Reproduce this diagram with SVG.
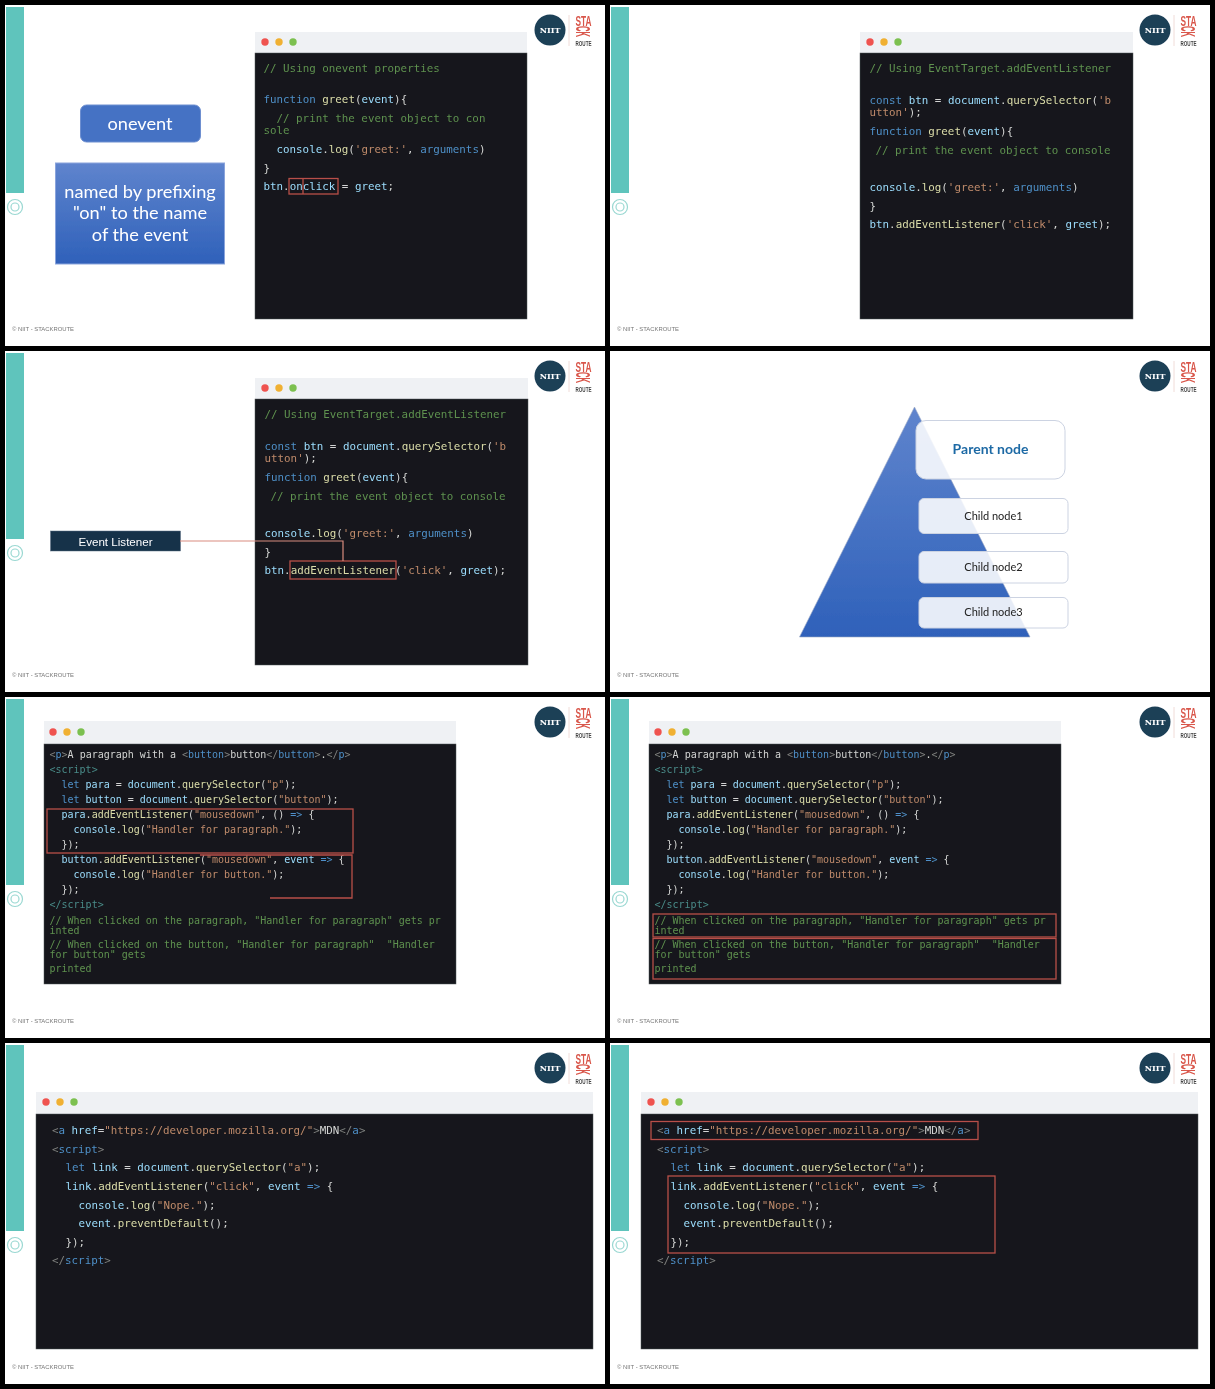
<svg xmlns="http://www.w3.org/2000/svg" width="1215" height="1389" viewBox="0 0 1215 1389">
<style>
.slide{fill:#fff}
.bar{fill:#5ec4bc}
.ring{fill:none;stroke:#9ad8d2;stroke-width:1.2}
.foot{font:5.9px "Liberation Sans",Arial,sans-serif;fill:#777}
.nb{font:bold 8px "DejaVu Serif",serif;fill:#fff;text-anchor:middle}
.sta{font:bold 15.500px "Liberation Sans",Arial,sans-serif;fill:#d9574b;text-anchor:middle}
.ck{font-size:21px}
.rt{font:bold 7.500px "Liberation Sans",Arial,sans-serif;fill:#444;text-anchor:middle}
.title{fill:#eff1f4}
.code{fill:#15171a;stroke:#55585c;stroke-width:.5}
.d1{fill:#ef5350}.d2{fill:#f0b030}.d3{fill:#7cc050}
text.m{font:10.85px "DejaVu Sans Mono","Liberation Mono",monospace;white-space:pre;fill:#d4d4d4}
text.s10{font-size:10px}
text.m.c,.c{fill:#5f9150}.k{fill:#4f8fc9}.f{fill:#dcdcaa}.v{fill:#9cdcfe}.s{fill:#c08a6c}.g{fill:#808080}.n{fill:#4f8fc9}.t{fill:#4a8a8a}
.box{fill:none;stroke:#b84f48;stroke-width:1.3}
.lato{font-family:Lato,"Open Sans",sans-serif;text-anchor:middle}
.wt{fill:#fff;font-size:18.200px}
.card{fill:#fff;fill-opacity:.88;stroke:#ccd3e2;stroke-width:1}
.cn{fill:#222;font-size:11px}
.conn{fill:none;stroke:#d98b80;stroke-width:1.2}
</style>
<defs>
<linearGradient id="bl" x1="0" y1="0" x2="0" y2="1"><stop offset="0" stop-color="#5f84cd"/><stop offset="1" stop-color="#2f61ba"/></linearGradient>
<filter id="soft" filterUnits="userSpaceOnUse" x="0" y="0" width="1215" height="1389"><feGaussianBlur stdDeviation="0.35"/></filter>
</defs>
<rect width="1215" height="1389" fill="#000"/>
<g id="deck" filter="url(#soft)">
<g id="slide1-chrome"><rect class="slide" x="5" y="5" width="600" height="341"/><rect class="bar" x="6" y="7" width="18" height="186"/><circle class="ring" cx="15" cy="207" r="7.5"/><circle class="ring" cx="15" cy="207" r="4"/><text class="foot" x="12" y="331">© NIIT - STACKROUTE</text><circle cx="550" cy="30" r="15.5" fill="#1c3f57"/><text class="nb" x="550" y="33">NIIT</text><line x1="569" y1="15" x2="569" y2="46" stroke="#f0dcd8"/><text class="sta" x="583.5" y="25.5" textLength="16" lengthAdjust="spacingAndGlyphs">STA</text><text class="sta ck" transform="translate(576,31.500) rotate(90)" textLength="11" lengthAdjust="spacingAndGlyphs">CK</text><text class="rt" x="583.5" y="45.5" textLength="16" lengthAdjust="spacingAndGlyphs">ROUTE</text></g>
<g id="slide2-chrome"><rect class="slide" x="610" y="5" width="600" height="341"/><rect class="bar" x="611" y="7" width="18" height="186"/><circle class="ring" cx="620" cy="207" r="7.5"/><circle class="ring" cx="620" cy="207" r="4"/><text class="foot" x="617" y="331">© NIIT - STACKROUTE</text><circle cx="1155" cy="30" r="15.5" fill="#1c3f57"/><text class="nb" x="1155" y="33">NIIT</text><line x1="1174" y1="15" x2="1174" y2="46" stroke="#f0dcd8"/><text class="sta" x="1188.5" y="25.5" textLength="16" lengthAdjust="spacingAndGlyphs">STA</text><text class="sta ck" transform="translate(1181,31.500) rotate(90)" textLength="11" lengthAdjust="spacingAndGlyphs">CK</text><text class="rt" x="1188.5" y="45.5" textLength="16" lengthAdjust="spacingAndGlyphs">ROUTE</text></g>
<g id="slide3-chrome"><rect class="slide" x="5" y="351" width="600" height="341"/><rect class="bar" x="6" y="353" width="18" height="186"/><circle class="ring" cx="15" cy="553" r="7.5"/><circle class="ring" cx="15" cy="553" r="4"/><text class="foot" x="12" y="677">© NIIT - STACKROUTE</text><circle cx="550" cy="376" r="15.5" fill="#1c3f57"/><text class="nb" x="550" y="379">NIIT</text><line x1="569" y1="361" x2="569" y2="392" stroke="#f0dcd8"/><text class="sta" x="583.5" y="371.5" textLength="16" lengthAdjust="spacingAndGlyphs">STA</text><text class="sta ck" transform="translate(576,377.500) rotate(90)" textLength="11" lengthAdjust="spacingAndGlyphs">CK</text><text class="rt" x="583.5" y="391.5" textLength="16" lengthAdjust="spacingAndGlyphs">ROUTE</text></g>
<g id="slide4-chrome"><rect class="slide" x="610" y="351" width="600" height="341"/><text class="foot" x="617" y="677">© NIIT - STACKROUTE</text><circle cx="1155" cy="376" r="15.5" fill="#1c3f57"/><text class="nb" x="1155" y="379">NIIT</text><line x1="1174" y1="361" x2="1174" y2="392" stroke="#f0dcd8"/><text class="sta" x="1188.5" y="371.5" textLength="16" lengthAdjust="spacingAndGlyphs">STA</text><text class="sta ck" transform="translate(1181,377.500) rotate(90)" textLength="11" lengthAdjust="spacingAndGlyphs">CK</text><text class="rt" x="1188.5" y="391.5" textLength="16" lengthAdjust="spacingAndGlyphs">ROUTE</text></g>
<g id="slide5-chrome"><rect class="slide" x="5" y="697" width="600" height="341"/><rect class="bar" x="6" y="699" width="18" height="186"/><circle class="ring" cx="15" cy="899" r="7.5"/><circle class="ring" cx="15" cy="899" r="4"/><text class="foot" x="12" y="1023">© NIIT - STACKROUTE</text><circle cx="550" cy="722" r="15.5" fill="#1c3f57"/><text class="nb" x="550" y="725">NIIT</text><line x1="569" y1="707" x2="569" y2="738" stroke="#f0dcd8"/><text class="sta" x="583.5" y="717.5" textLength="16" lengthAdjust="spacingAndGlyphs">STA</text><text class="sta ck" transform="translate(576,723.500) rotate(90)" textLength="11" lengthAdjust="spacingAndGlyphs">CK</text><text class="rt" x="583.5" y="737.5" textLength="16" lengthAdjust="spacingAndGlyphs">ROUTE</text></g>
<g id="slide6-chrome"><rect class="slide" x="610" y="697" width="600" height="341"/><rect class="bar" x="611" y="699" width="18" height="186"/><circle class="ring" cx="620" cy="899" r="7.5"/><circle class="ring" cx="620" cy="899" r="4"/><text class="foot" x="617" y="1023">© NIIT - STACKROUTE</text><circle cx="1155" cy="722" r="15.5" fill="#1c3f57"/><text class="nb" x="1155" y="725">NIIT</text><line x1="1174" y1="707" x2="1174" y2="738" stroke="#f0dcd8"/><text class="sta" x="1188.5" y="717.5" textLength="16" lengthAdjust="spacingAndGlyphs">STA</text><text class="sta ck" transform="translate(1181,723.500) rotate(90)" textLength="11" lengthAdjust="spacingAndGlyphs">CK</text><text class="rt" x="1188.5" y="737.5" textLength="16" lengthAdjust="spacingAndGlyphs">ROUTE</text></g>
<g id="slide7-chrome"><rect class="slide" x="5" y="1043" width="600" height="341"/><rect class="bar" x="6" y="1045" width="18" height="186"/><circle class="ring" cx="15" cy="1245" r="7.5"/><circle class="ring" cx="15" cy="1245" r="4"/><text class="foot" x="12" y="1369">© NIIT - STACKROUTE</text><circle cx="550" cy="1068" r="15.5" fill="#1c3f57"/><text class="nb" x="550" y="1071">NIIT</text><line x1="569" y1="1053" x2="569" y2="1084" stroke="#f0dcd8"/><text class="sta" x="583.5" y="1063.5" textLength="16" lengthAdjust="spacingAndGlyphs">STA</text><text class="sta ck" transform="translate(576,1069.500) rotate(90)" textLength="11" lengthAdjust="spacingAndGlyphs">CK</text><text class="rt" x="583.5" y="1083.5" textLength="16" lengthAdjust="spacingAndGlyphs">ROUTE</text></g>
<g id="slide8-chrome"><rect class="slide" x="610" y="1043" width="600" height="341"/><rect class="bar" x="611" y="1045" width="18" height="186"/><circle class="ring" cx="620" cy="1245" r="7.5"/><circle class="ring" cx="620" cy="1245" r="4"/><text class="foot" x="617" y="1369">© NIIT - STACKROUTE</text><circle cx="1155" cy="1068" r="15.5" fill="#1c3f57"/><text class="nb" x="1155" y="1071">NIIT</text><line x1="1174" y1="1053" x2="1174" y2="1084" stroke="#f0dcd8"/><text class="sta" x="1188.5" y="1063.5" textLength="16" lengthAdjust="spacingAndGlyphs">STA</text><text class="sta ck" transform="translate(1181,1069.500) rotate(90)" textLength="11" lengthAdjust="spacingAndGlyphs">CK</text><text class="rt" x="1188.5" y="1083.5" textLength="16" lengthAdjust="spacingAndGlyphs">ROUTE</text></g>

<g id="slide1-labels">
<g id="onevent"><rect x="80.500" y="105" width="120" height="37" rx="6" fill="#4472c4" stroke="#6e8fd0"/><text class="lato wt" x="140" y="129.500">onevent</text></g>
<g id="named"><rect x="55.500" y="163" width="169" height="101" fill="url(#bl)" stroke="#8aa4dc"/><text class="lato wt" x="140" y="198">named by prefixing</text><text class="lato wt" x="140" y="219">"on" to the name</text><text class="lato wt" x="140" y="240.500">of the event</text></g>
</g>
<g id="slide1-window"><rect class="title" x="255" y="32" width="272" height="21"/><rect class="code" x="255" y="53" width="272" height="266"/><circle class="d1" cx="265" cy="42" r="3.7"/><circle class="d2" cx="279" cy="42" r="3.7"/><circle class="d3" cx="293" cy="42" r="3.7"/>
<text class="m c" x="263.500" y="71.500">// Using onevent properties</text>
<text class="m" x="263.500" y="102.500"><tspan class="k">function</tspan> <tspan class="f">greet</tspan>(<tspan class="v">event</tspan>){</text>
<text class="m c" x="276.500" y="121.500">// print the event object to con</text>
<text class="m c" x="263.500" y="133.500">sole</text>
<text class="m" x="276.500" y="152.500"><tspan class="v">console</tspan>.<tspan class="f">log</tspan>(<tspan class="s">'greet:'</tspan>, <tspan class="k">arguments</tspan>)</text>
<text class="m" x="263.500" y="171.500">}</text>
<text class="m" x="263.500" y="190"><tspan class="v">btn</tspan>.<tspan class="v">onclick</tspan> = <tspan class="v">greet</tspan>;</text>
<rect class="box" x="289" y="178.500" width="49" height="15.500"/><line class="box" x1="303" y1="178.500" x2="303" y2="194"/></g>

<g id="slide2-window"><rect class="title" x="860" y="32" width="273" height="21"/><rect class="code" x="860" y="53" width="273" height="266"/><circle class="d1" cx="870" cy="42" r="3.7"/><circle class="d2" cx="884" cy="42" r="3.7"/><circle class="d3" cx="898" cy="42" r="3.7"/>
<text class="m c" x="869.500" y="71.500">// Using EventTarget.addEventListener</text>
<text class="m" x="869.500" y="103.500"><tspan class="k">const</tspan> <tspan class="v">btn</tspan> = <tspan class="v">document</tspan>.<tspan class="f">querySelector</tspan>(<tspan class="s">'b</tspan></text>
<text class="m" x="869.500" y="115.500"><tspan class="s">utton'</tspan>);</text>
<text class="m" x="869.500" y="134.500"><tspan class="k">function</tspan> <tspan class="f">greet</tspan>(<tspan class="v">event</tspan>){</text>
<text class="m c" x="875.500" y="153.500">// print the event object to console</text>
<text class="m" x="869.500" y="190.500"><tspan class="v">console</tspan>.<tspan class="f">log</tspan>(<tspan class="s">'greet:'</tspan>, <tspan class="k">arguments</tspan>)</text>
<text class="m" x="869.500" y="209.500">}</text>
<text class="m" x="869.500" y="228"><tspan class="v">btn</tspan>.<tspan class="f">addEventListener</tspan>(<tspan class="s">'click'</tspan>, <tspan class="v">greet</tspan>);</text></g>

<g id="slide3-window"><rect class="title" x="255" y="378" width="273" height="21"/><rect class="code" x="255" y="399" width="273" height="266"/><circle class="d1" cx="265" cy="388" r="3.7"/><circle class="d2" cx="279" cy="388" r="3.7"/><circle class="d3" cx="293" cy="388" r="3.7"/>
<text class="m c" x="264.500" y="418">// Using EventTarget.addEventListener</text>
<text class="m" x="264.500" y="449.500"><tspan class="k">const</tspan> <tspan class="v">btn</tspan> = <tspan class="v">document</tspan>.<tspan class="f">querySelector</tspan>(<tspan class="s">'b</tspan></text>
<text class="m" x="264.500" y="461.500"><tspan class="s">utton'</tspan>);</text>
<text class="m" x="264.500" y="480.500"><tspan class="k">function</tspan> <tspan class="f">greet</tspan>(<tspan class="v">event</tspan>){</text>
<text class="m c" x="270.500" y="499.500">// print the event object to console</text>
<text class="m" x="264.500" y="536.500"><tspan class="v">console</tspan>.<tspan class="f">log</tspan>(<tspan class="s">'greet:'</tspan>, <tspan class="k">arguments</tspan>)</text>
<text class="m" x="264.500" y="555.500">}</text>
<text class="m" x="264.500" y="574"><tspan class="v">btn</tspan>.<tspan class="f">addEventListener</tspan>(<tspan class="s">'click'</tspan>, <tspan class="v">greet</tspan>);</text>
<rect class="box" x="290" y="561" width="106" height="18"/></g>
<g id="event-listener"><rect x="50.500" y="531" width="130" height="20" fill="#16304a" stroke="#5a6f82" stroke-width=".5"/><text x="115.500" y="545.500" text-anchor="middle" fill="#fff" style="font:11.600px 'Liberation Sans',Arial,sans-serif">Event Listener</text></g>
<g id="connectors"><polyline class="conn" points="180,541 343,541 343,561"/></g>

<g id="slide4-pyramid"><polygon points="914.500,407 1030,637 799.500,637" fill="url(#bl)" stroke="#9aa8c4" stroke-width=".6"/>
<g id="parent-node"><rect class="card" x="916" y="420.500" width="149" height="58.500" rx="10"/><text class="lato" x="990.500" y="454" fill="#1f6aa5" font-weight="700" font-size="14px">Parent node</text></g>
<g id="child-node1"><rect class="card" x="919" y="498.500" width="149" height="35" rx="5"/><text class="lato cn" x="993.500" y="519.500">Child node1</text></g>
<g id="child-node2"><rect class="card" x="919" y="551.500" width="149" height="31.500" rx="5"/><text class="lato cn" x="993.500" y="571">Child node2</text></g>
<g id="child-node3"><rect class="card" x="919" y="597.500" width="149" height="30.500" rx="5"/><text class="lato cn" x="993.500" y="616">Child node3</text></g>
</g>

<g id="slide5-window"><rect class="title" x="44" y="721" width="412" height="23"/><rect class="code" x="44" y="744" width="412" height="240"/><circle class="d1" cx="53" cy="732" r="3.7"/><circle class="d2" cx="67" cy="732" r="3.7"/><circle class="d3" cx="81" cy="732" r="3.7"/>
<text class="m s10" x="49.500" y="758"><tspan class="g">&lt;</tspan><tspan class="n">p</tspan><tspan class="g">&gt;</tspan>A paragraph with a <tspan class="g">&lt;</tspan><tspan class="n">button</tspan><tspan class="g">&gt;</tspan>button<tspan class="g">&lt;/</tspan><tspan class="n">button</tspan><tspan class="g">&gt;</tspan>.<tspan class="g">&lt;/</tspan><tspan class="n">p</tspan><tspan class="g">&gt;</tspan></text>
<text class="m s10" x="49.500" y="773"><tspan class="t">&lt;script&gt;</tspan></text>
<text class="m s10" x="61.500" y="788"><tspan class="k">let</tspan> <tspan class="v">para</tspan> = <tspan class="v">document</tspan>.<tspan class="f">querySelector</tspan>(<tspan class="s">"p"</tspan>);</text>
<text class="m s10" x="61.500" y="803"><tspan class="k">let</tspan> <tspan class="v">button</tspan> = <tspan class="v">document</tspan>.<tspan class="f">querySelector</tspan>(<tspan class="s">"button"</tspan>);</text>
<text class="m s10" x="61.500" y="818"><tspan class="v">para</tspan>.<tspan class="f">addEventListener</tspan>(<tspan class="s">"mousedown"</tspan>, () <tspan class="k">=&gt;</tspan> {</text>
<text class="m s10" x="73.500" y="833"><tspan class="v">console</tspan>.<tspan class="f">log</tspan>(<tspan class="s">"Handler for paragraph."</tspan>);</text>
<text class="m s10" x="61.500" y="848">});</text>
<text class="m s10" x="61.500" y="863"><tspan class="v">button</tspan>.<tspan class="f">addEventListener</tspan>(<tspan class="s">"mousedown"</tspan>, <tspan class="v">event</tspan> <tspan class="k">=&gt;</tspan> {</text>
<text class="m s10" x="73.500" y="878"><tspan class="v">console</tspan>.<tspan class="f">log</tspan>(<tspan class="s">"Handler for button."</tspan>);</text>
<text class="m s10" x="61.500" y="893">});</text>
<text class="m s10" x="49.500" y="908"><tspan class="t">&lt;/script&gt;</tspan></text>
<text class="m s10 c" x="49.500" y="924">// When clicked on the paragraph, "Handler for paragraph" gets pr</text>
<text class="m s10 c" x="49.500" y="933.500">inted</text>
<text class="m s10 c" x="49.500" y="948">// When clicked on the button, "Handler for paragraph"  "Handler</text>
<text class="m s10 c" x="49.500" y="957.500">for button" gets</text>
<text class="m s10 c" x="49.500" y="972">printed</text>
<rect class="box" x="47" y="809" width="306" height="44"/><polyline class="box" points="200,855 352,855 352,898 270,898" stroke-width="1"/></g>

<g id="slide6-window"><rect class="title" x="649" y="721" width="412" height="23"/><rect class="code" x="649" y="744" width="412" height="240"/><circle class="d1" cx="658" cy="732" r="3.7"/><circle class="d2" cx="672" cy="732" r="3.7"/><circle class="d3" cx="686" cy="732" r="3.7"/>
<text class="m s10" x="654.500" y="758"><tspan class="g">&lt;</tspan><tspan class="n">p</tspan><tspan class="g">&gt;</tspan>A paragraph with a <tspan class="g">&lt;</tspan><tspan class="n">button</tspan><tspan class="g">&gt;</tspan>button<tspan class="g">&lt;/</tspan><tspan class="n">button</tspan><tspan class="g">&gt;</tspan>.<tspan class="g">&lt;/</tspan><tspan class="n">p</tspan><tspan class="g">&gt;</tspan></text>
<text class="m s10" x="654.500" y="773"><tspan class="t">&lt;script&gt;</tspan></text>
<text class="m s10" x="666.500" y="788"><tspan class="k">let</tspan> <tspan class="v">para</tspan> = <tspan class="v">document</tspan>.<tspan class="f">querySelector</tspan>(<tspan class="s">"p"</tspan>);</text>
<text class="m s10" x="666.500" y="803"><tspan class="k">let</tspan> <tspan class="v">button</tspan> = <tspan class="v">document</tspan>.<tspan class="f">querySelector</tspan>(<tspan class="s">"button"</tspan>);</text>
<text class="m s10" x="666.500" y="818"><tspan class="v">para</tspan>.<tspan class="f">addEventListener</tspan>(<tspan class="s">"mousedown"</tspan>, () <tspan class="k">=&gt;</tspan> {</text>
<text class="m s10" x="678.500" y="833"><tspan class="v">console</tspan>.<tspan class="f">log</tspan>(<tspan class="s">"Handler for paragraph."</tspan>);</text>
<text class="m s10" x="666.500" y="848">});</text>
<text class="m s10" x="666.500" y="863"><tspan class="v">button</tspan>.<tspan class="f">addEventListener</tspan>(<tspan class="s">"mousedown"</tspan>, <tspan class="v">event</tspan> <tspan class="k">=&gt;</tspan> {</text>
<text class="m s10" x="678.500" y="878"><tspan class="v">console</tspan>.<tspan class="f">log</tspan>(<tspan class="s">"Handler for button."</tspan>);</text>
<text class="m s10" x="666.500" y="893">});</text>
<text class="m s10" x="654.500" y="908"><tspan class="t">&lt;/script&gt;</tspan></text>
<text class="m s10 c" x="654.500" y="924">// When clicked on the paragraph, "Handler for paragraph" gets pr</text>
<text class="m s10 c" x="654.500" y="933.500">inted</text>
<text class="m s10 c" x="654.500" y="948">// When clicked on the button, "Handler for paragraph"  "Handler</text>
<text class="m s10 c" x="654.500" y="957.500">for button" gets</text>
<text class="m s10 c" x="654.500" y="972">printed</text>
<rect class="box" x="653" y="914" width="403" height="23"/><rect class="box" x="653" y="938.500" width="403" height="40.500"/></g>

<g id="slide7-window"><rect class="title" x="36" y="1092" width="557" height="22"/><rect class="code" x="36" y="1114" width="557" height="235"/><circle class="d1" cx="46" cy="1102" r="3.7"/><circle class="d2" cx="60" cy="1102" r="3.7"/><circle class="d3" cx="74" cy="1102" r="3.7"/>
<text class="m" x="52" y="1134"><tspan class="g">&lt;</tspan><tspan class="n">a</tspan> <tspan class="v">href</tspan>=<tspan class="s">"https://developer.mozilla.org/"</tspan><tspan class="g">&gt;</tspan>MDN<tspan class="g">&lt;/</tspan><tspan class="n">a</tspan><tspan class="g">&gt;</tspan></text>
<text class="m" x="52" y="1152.500"><tspan class="g">&lt;</tspan><tspan class="n">script</tspan><tspan class="g">&gt;</tspan></text>
<text class="m" x="65.500" y="1171"><tspan class="k">let</tspan> <tspan class="v">link</tspan> = <tspan class="v">document</tspan>.<tspan class="f">querySelector</tspan>(<tspan class="s">"a"</tspan>);</text>
<text class="m" x="65.500" y="1189.500"><tspan class="v">link</tspan>.<tspan class="f">addEventListener</tspan>(<tspan class="s">"click"</tspan>, <tspan class="v">event</tspan> <tspan class="k">=&gt;</tspan> {</text>
<text class="m" x="78.500" y="1208.500"><tspan class="v">console</tspan>.<tspan class="f">log</tspan>(<tspan class="s">"Nope."</tspan>);</text>
<text class="m" x="78.500" y="1227"><tspan class="v">event</tspan>.<tspan class="f">preventDefault</tspan>();</text>
<text class="m" x="65.500" y="1245.500">});</text>
<text class="m" x="52" y="1264"><tspan class="g">&lt;/</tspan><tspan class="n">script</tspan><tspan class="g">&gt;</tspan></text></g>

<g id="slide8-window"><rect class="title" x="641" y="1092" width="557" height="22"/><rect class="code" x="641" y="1114" width="557" height="235"/><circle class="d1" cx="651" cy="1102" r="3.7"/><circle class="d2" cx="665" cy="1102" r="3.7"/><circle class="d3" cx="679" cy="1102" r="3.7"/>
<text class="m" x="657" y="1134"><tspan class="g">&lt;</tspan><tspan class="n">a</tspan> <tspan class="v">href</tspan>=<tspan class="s">"https://developer.mozilla.org/"</tspan><tspan class="g">&gt;</tspan>MDN<tspan class="g">&lt;/</tspan><tspan class="n">a</tspan><tspan class="g">&gt;</tspan></text>
<text class="m" x="657" y="1152.500"><tspan class="g">&lt;</tspan><tspan class="n">script</tspan><tspan class="g">&gt;</tspan></text>
<text class="m" x="670.500" y="1171"><tspan class="k">let</tspan> <tspan class="v">link</tspan> = <tspan class="v">document</tspan>.<tspan class="f">querySelector</tspan>(<tspan class="s">"a"</tspan>);</text>
<text class="m" x="670.500" y="1189.500"><tspan class="v">link</tspan>.<tspan class="f">addEventListener</tspan>(<tspan class="s">"click"</tspan>, <tspan class="v">event</tspan> <tspan class="k">=&gt;</tspan> {</text>
<text class="m" x="683.500" y="1208.500"><tspan class="v">console</tspan>.<tspan class="f">log</tspan>(<tspan class="s">"Nope."</tspan>);</text>
<text class="m" x="683.500" y="1227"><tspan class="v">event</tspan>.<tspan class="f">preventDefault</tspan>();</text>
<text class="m" x="670.500" y="1245.500">});</text>
<text class="m" x="657" y="1264"><tspan class="g">&lt;/</tspan><tspan class="n">script</tspan><tspan class="g">&gt;</tspan></text>
<rect class="box" x="651" y="1121.500" width="327" height="18"/><rect class="box" x="668" y="1176" width="327" height="77"/></g>
</g>
</svg>
